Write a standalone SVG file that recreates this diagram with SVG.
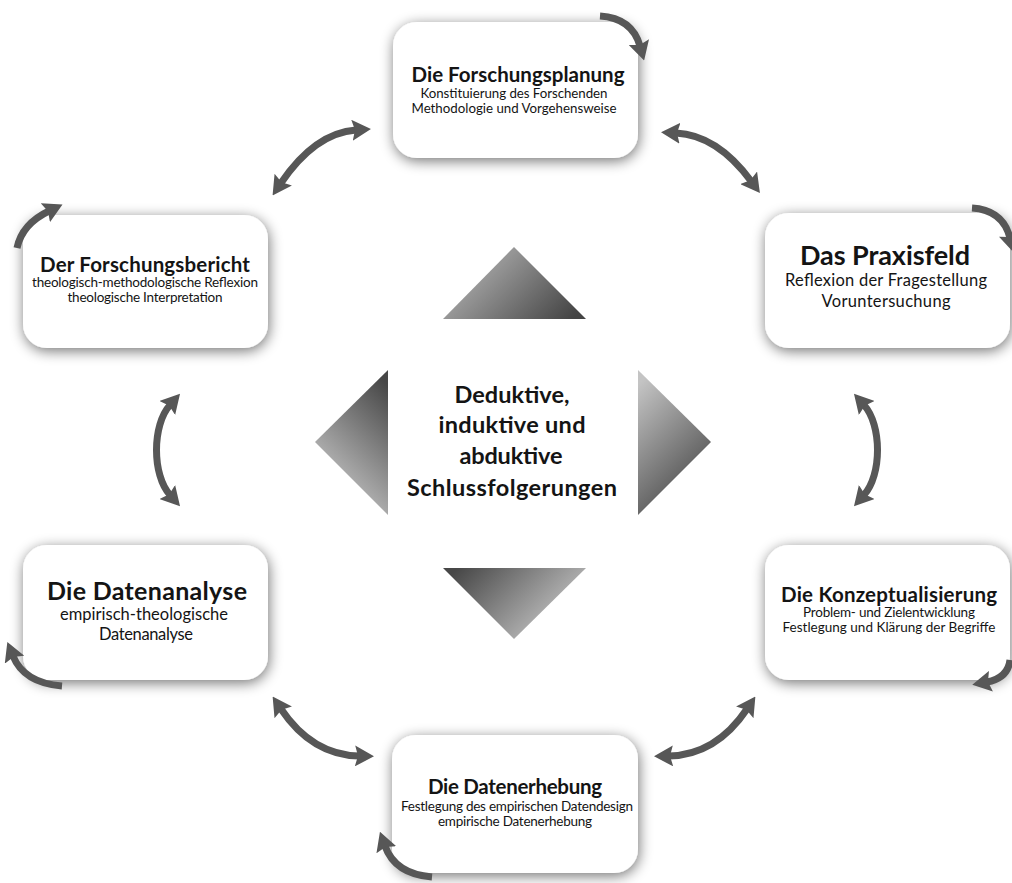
<svg xmlns="http://www.w3.org/2000/svg" width="1012" height="883" viewBox="0 0 1012 883">
<style>
.box{fill:#fff;filter:url(#sh)}
.t{font-family:Lato,"Open Sans","Liberation Sans",sans-serif;fill:#141414;text-anchor:middle}
.b{font-weight:bold}
.arr{fill:none;stroke:#575757;stroke-width:7}
</style>
<defs>
<filter id="sh" x="-20%" y="-20%" width="140%" height="140%">
<feGaussianBlur in="SourceAlpha" stdDeviation="7"/>
<feOffset dx="1" dy="3" result="o"/>
<feComponentTransfer><feFuncA type="linear" slope="0.55"/></feComponentTransfer>
<feMerge><feMergeNode/><feMergeNode in="SourceGraphic"/></feMerge>
</filter>
<marker id="ah" viewBox="0 0 19 21" refX="4" refY="10.5" markerWidth="19" markerHeight="21" markerUnits="userSpaceOnUse" orient="auto-start-reverse">
<path d="M0,0 L19,10.5 L0,21 L3,10.5 z" fill="#575757"/>
</marker>
<linearGradient id="gTop" x1="0" y1="0.3" x2="1" y2="0.8"><stop offset="0" stop-color="#b8b8b8"/><stop offset="1" stop-color="#444"/></linearGradient>
<linearGradient id="gBot" x1="0" y1="0.2" x2="1" y2="0.7"><stop offset="0" stop-color="#474747"/><stop offset="1" stop-color="#cfcfcf"/></linearGradient>
<linearGradient id="gLeft" x1="0.8" y1="0" x2="0.3" y2="1"><stop offset="0" stop-color="#474747"/><stop offset="1" stop-color="#d0d0d0"/></linearGradient>
<linearGradient id="gRight" x1="0.2" y1="0" x2="0.7" y2="1"><stop offset="0" stop-color="#c4c4c4"/><stop offset="1" stop-color="#444"/></linearGradient>
</defs>
<rect width="1012" height="883" fill="#fff"/>

<g id="center">
<polygon points="514,247 443,319 586,319" fill="url(#gTop)"/>
<polygon points="443,568 586,568 514,639" fill="url(#gBot)"/>
<polygon points="388,370 388,515 315,442" fill="url(#gLeft)"/>
<polygon points="638,370 711,442 638,515" fill="url(#gRight)"/>
<text class="t b" font-size="23.5" x="512" y="403" textLength="115">Deduktive,</text>
<text class="t b" font-size="23.5" x="512" y="433" textLength="147">induktive und</text>
<text class="t b" font-size="23.5" x="511" y="464" textLength="103">abduktive</text>
<text class="t b" font-size="23.5" x="512" y="496" textLength="210">Schlussfolgerungen</text>
</g>

<g id="n-planung">
<rect class="box" x="393" y="22" width="245" height="136" rx="24"/>
<text class="t b" font-size="20.5" x="518" y="82" textLength="213">Die Forschungsplanung</text>
<text class="t" font-size="13.3" x="514" y="98" textLength="187">Konstituierung des Forschenden</text>
<text class="t" font-size="13.3" x="514" y="113" textLength="205">Methodologie und Vorgehensweise</text>
</g>

<g id="n-praxisfeld">
<rect class="box" x="765" y="213" width="245" height="135" rx="24"/>
<text class="t b" font-size="27" x="885" y="265" textLength="170">Das Praxisfeld</text>
<text class="t" font-size="16.5" x="886" y="286" textLength="202">Reflexion der Fragestellung</text>
<text class="t" font-size="16.5" x="886" y="307" textLength="129">Voruntersuchung</text>
</g>

<g id="n-bericht">
<rect class="box" x="23" y="215" width="245" height="133" rx="24"/>
<text class="t b" font-size="20.5" x="145" y="272" textLength="210">Der Forschungsbericht</text>
<text class="t" font-size="13.5" x="145" y="287" textLength="226">theologisch-methodologische Reflexion</text>
<text class="t" font-size="13.5" x="145" y="302" textLength="155">theologische Interpretation</text>
</g>

<g id="n-konzept">
<rect class="box" x="765" y="545" width="245" height="135" rx="24"/>
<text class="t b" font-size="20.5" x="889" y="602" textLength="216">Die Konzeptualisierung</text>
<text class="t" font-size="13.5" x="889" y="617" textLength="172">Problem- und Zielentwicklung</text>
<text class="t" font-size="13.5" x="889" y="632" textLength="213">Festlegung und Klärung der Begriffe</text>
</g>

<g id="n-erhebung">
<rect class="box" x="392" y="735" width="246" height="138" rx="24"/>
<text class="t b" font-size="20.5" x="515" y="794" textLength="174">Die Datenerhebung</text>
<text class="t" font-size="13.5" x="517" y="811" textLength="232">Festlegung des empirischen Datendesign</text>
<text class="t" font-size="13.5" x="515" y="826" textLength="154">empirische Datenerhebung</text>
</g>

<g id="n-analyse">
<rect class="box" x="23" y="545" width="245" height="135" rx="24"/>
<text class="t b" font-size="25" x="147" y="600" textLength="200">Die Datenanalyse</text>
<text class="t" font-size="16.5" x="144" y="620" textLength="168">empirisch-theologische</text>
<text class="t" font-size="16.5" x="146" y="640" textLength="94">Datenanalyse</text>
</g>

<g id="connectors">
<path class="arr" d="M281 183 Q315 133 356 130" marker-start="url(#ah)" marker-end="url(#ah)"/>
<path class="arr" d="M676 133 Q717 135 751 181" marker-start="url(#ah)" marker-end="url(#ah)"/>
<path class="arr" d="M170 405 C152 425 152 475 170 495" marker-start="url(#ah)" marker-end="url(#ah)"/>
<path class="arr" d="M864 405 C882 425 882 475 864 495" marker-start="url(#ah)" marker-end="url(#ah)"/>
<path class="arr" d="M281 709 Q312 755 359 756" marker-start="url(#ah)" marker-end="url(#ah)"/>
<path class="arr" d="M747 709 Q716 755 669 756" marker-start="url(#ah)" marker-end="url(#ah)"/>
<path class="arr" d="M600 16 Q632 18 640 46" marker-end="url(#ah)"/>
<path class="arr" d="M972 208 Q1003 210 1010 238" marker-end="url(#ah)"/>
<path class="arr" d="M17 248 Q22 224 49 211" marker-end="url(#ah)"/>
<path class="arr" d="M1010 660 Q1008 678 987 682" marker-end="url(#ah)"/>
<path class="arr" d="M432 877 Q395 874 385 846" marker-end="url(#ah)"/>
<path class="arr" d="M62 686 Q24 683 13 656" marker-end="url(#ah)"/>
</g>
</svg>
